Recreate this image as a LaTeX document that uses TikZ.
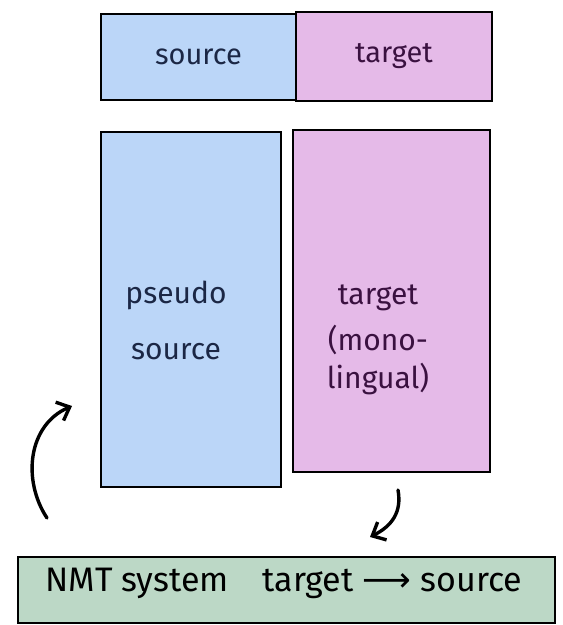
\documentclass[tikz,border=0pt]{standalone}
\usepackage{fontspec}
\setmainfont{Fira Sans}
\newfontfamily\arrowfont{DejaVu Sans}
\usetikzlibrary{arrows.meta}
\definecolor{srcblue}{HTML}{BBD6F8}
\definecolor{tgtpurple}{HTML}{E5BAE8}
\definecolor{nmtgreen}{HTML}{BCD8C6}
\definecolor{inkblue}{HTML}{1B2745}
\definecolor{inkpurple}{HTML}{3A1140}
\begin{document}
\begin{tikzpicture}[x=1pt,y=-1pt,
  box/.style={draw=black, line width=2.6pt, inner sep=0pt, outer sep=0pt},
  srcbox/.style={box, fill=srcblue},
  tgtbox/.style={box, fill=tgtpurple},
  nmtbox/.style={box, fill=nmtgreen},
  lbl/.style={font=\fontsize{29}{36}\selectfont, align=center},
  bigarrow/.style={line width=3.4pt, line cap=round, -{Straight Barb[length=11pt,width=20pt,line width=3.4pt]}}
]
\useasboundingbox (0,0) rectangle (563,625);
\fill[white] (0,0) rectangle (563,625);
% top boxes
\node[srcbox, minimum width=195pt, minimum height=86pt] (src) at (198.5,57) {};
\node[tgtbox, minimum width=196pt, minimum height=89pt] (tgt) at (394,56.5) {};
\node[lbl, text=inkblue] (srclbl) at (src.center) {source};
\node[lbl, text=inkpurple] (tgtlbl) at (tgt.center) {target};
% big boxes
\node[srcbox, minimum width=180pt, minimum height=355pt] (pseudo) at (191,309.5) {};
\node[tgtbox, minimum width=197pt, minimum height=342pt] (mono) at (391.5,301) {};
\node[lbl, text=inkblue, font=\fontsize{30}{56}\selectfont] (pseudolbl) at (176,320) {pseudo\\source};
\node[lbl, text=inkpurple, font=\fontsize{30}{38}\selectfont] (monolbl) at (378,340) {target\\[8pt](mono-\\lingual)};
% bottom box
\node[nmtbox, minimum width=537pt, minimum height=66pt] (nmt) at (286.5,590) {};
\node[lbl, font=\fontsize{34}{40}\selectfont] (nmtlbl) at (284,583) {NMT system\quad target {\arrowfont ⟶} source};
% arrows
\coordinate (lstart) at (47,518);
\coordinate (lend) at (72,406);
\draw[bigarrow] (lstart) .. controls (22,480) and (28,425) .. (lend);
\coordinate (bstart) at (398,490);
\coordinate (bend) at (370,537);
\draw[bigarrow] (bstart) .. controls (402,512) and (392,526) .. (bend);
\end{tikzpicture}
\end{document}
